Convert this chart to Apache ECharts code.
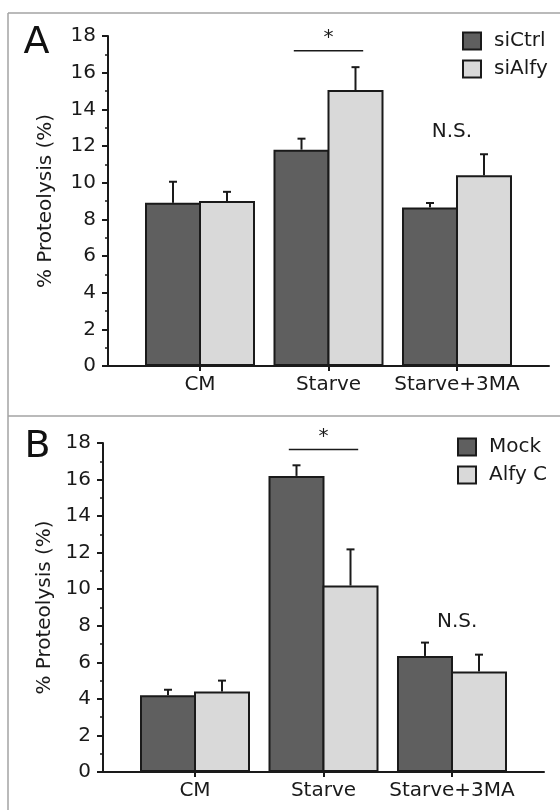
<!DOCTYPE html>
<html>
<head>
<meta charset="utf-8">
<script src="https://cdn.jsdelivr.net/npm/echarts@6/dist/echarts.min.js"></script>
<style>
  html, body { margin: 0; padding: 0; background: #fff; }
  #chart { width: 560px; height: 810px; }
</style>
</head>
<body>
<div id="chart"></div>
<script>
// ---------- data ----------
const categories = ['CM', 'Starve', 'Starve+3MA'];
const categoryPositions = [1, 2, 3];
const yTickValues = [0, 2, 4, 6, 8, 10, 12, 14, 16, 18];

// Panel A
const namesA = ['siCtrl', 'siAlfy'];
const siCtrlMean = [8.9, 11.8, 8.65];
const siCtrlErr  = [1.15, 0.6, 0.24];
const siAlfyMean = [9.0, 15.05, 10.4];
const siAlfyErr  = [0.5, 1.25, 1.15];

// Panel B
const namesB = ['Mock', 'Alfy C'];
const mockMean  = [4.2, 16.2, 6.35];
const mockErr   = [0.3, 0.58, 0.73];
const alfyCMean = [4.4, 10.2, 5.5];
const alfyCErr  = [0.6, 1.98, 0.92];

// significance annotations: [category position, level, label, bracket half-width]
const annotA = [[2, 17.2, '*', 0.27], [2.96, 12.8, 'N.S.', 0]];
const annotB = [[2, 17.65, '*', 0.27], [3.04, 8.2, 'N.S.', 0]];

// ---------- style ----------
const FONT = 'DejaVu Sans';
const INK = '#1a1a1a';
const DARK = '#5f5f5f';
const LIGHT = '#d9d9d9';
const BAR_W = 56;
const BORDER = 2;
const X_MIN = 0.284, X_MAX = 3.716;

const chart = echarts.init(document.getElementById('chart'), null, { renderer: 'canvas' });

function pairs(vals) { return vals.map((v, i) => [categoryPositions[i], v]); }
function errData(m1, e1, m2, e2) {
  const out = [];
  m1.forEach((v, i) => out.push([categoryPositions[i], v, e1[i], -1]));
  m2.forEach((v, i) => out.push([categoryPositions[i], v, e2[i], 1]));
  return out;
}
function errRender(params, api) {
  const x = api.value(0), v = api.value(1), e = api.value(2), side = api.value(3);
  const p0 = api.coord([x, v]);
  const p1 = api.coord([x, v + e]);
  const cx = p0[0] + side * (BAR_W - BORDER) / 2;
  return {
    type: 'group',
    children: [
      { type: 'line', shape: { x1: cx, y1: p0[1], x2: cx, y2: p1[1] }, style: { stroke: INK, lineWidth: 2 } },
      { type: 'line', shape: { x1: cx - 4, y1: p1[1], x2: cx + 4, y2: p1[1] }, style: { stroke: INK, lineWidth: 2 } }
    ]
  };
}
function annotRender(list) {
  return function (params, api) {
    const item = list[params.dataIndex];
    const x = api.value(0), y = api.value(1), half = api.value(2);
    const c = api.coord([x, y]);
    const children = [];
    if (half > 0) {
      const l = api.coord([x - half, y]);
      const r = api.coord([x + half, y]);
      children.push({ type: 'line', shape: { x1: l[0], y1: l[1], x2: r[0], y2: r[1] }, style: { stroke: INK, lineWidth: 1.5 } });
      children.push({ type: 'text', x: c[0], y: c[1] - 13, style: { text: item[2], fontFamily: FONT, fontSize: 20, fill: INK, align: 'center', verticalAlign: 'middle' } });
    } else {
      children.push({ type: 'text', x: c[0], y: c[1], style: { text: item[2], fontFamily: FONT, fontSize: 20, fill: INK, align: 'center', verticalAlign: 'middle' } });
    }
    return { type: 'group', children };
  };
}

function xAxisCfg(gridIndex) {
  return {
    gridIndex, type: 'value', min: X_MIN, max: X_MAX,
    axisLine: { show: true, onZero: false, lineStyle: { color: INK, width: 2 } },
    axisTick: { show: true, inside: false, length: 5, customValues: categoryPositions, lineStyle: { color: INK, width: 2 } },
    axisLabel: {
      show: true, customValues: categoryPositions, margin: 9,
      formatter: v => categories[categoryPositions.indexOf(Math.round(v))] || '',
      fontFamily: FONT, fontSize: 20, color: INK
    },
    splitLine: { show: false }
  };
}
function yAxisCfg(gridIndex, nameGap) {
  return {
    gridIndex, type: 'value', min: 0, max: 18, interval: 2,
    name: '% Proteolysis (%)', nameLocation: 'middle', nameGap,
    nameTextStyle: { fontFamily: FONT, fontSize: 20, color: INK },
    axisLine: { show: true, onZero: false, lineStyle: { color: INK, width: 2 } },
    axisTick: { show: true, inside: false, length: 6, lineStyle: { color: INK, width: 2 } },
    minorTick: { show: true, splitNumber: 2, length: 3, lineStyle: { color: INK, width: 1.5 } },
    axisLabel: { show: true, margin: 12, fontFamily: FONT, fontSize: 20, color: INK,
      customValues: yTickValues },
    splitLine: { show: false },
    minorSplitLine: { show: false }
  };
}
function barSeries(name, vals, color, idx) {
  return {
    name, type: 'bar', xAxisIndex: idx, yAxisIndex: idx,
    data: pairs(vals), barWidth: BAR_W, barGap: (-100 * BORDER / BAR_W).toFixed(2) + '%',
    itemStyle: { color, borderColor: INK, borderWidth: BORDER },
    emphasis: { disabled: true }, z: 2
  };
}
function legendCfg(names, left, top) {
  return {
    data: names, orient: 'vertical', left, top, padding: 0,
    icon: 'rect', itemWidth: 18, itemHeight: 17, itemGap: 8,
    textStyle: { fontFamily: FONT, fontSize: 20, color: INK, padding: [0, 0, 0, 8] },
    selectedMode: false
  };
}

const borderStyle = { stroke: '#a3a3a3', lineWidth: 1.5 };

const option = {
  backgroundColor: '#ffffff',
  animation: false,
  grid: [
    { left: 108, top: 36, width: 441, height: 330, outerBoundsMode: 'none', containLabel: false },
    { left: 103, top: 443, width: 441, height: 329, outerBoundsMode: 'none', containLabel: false }
  ],
  xAxis: [xAxisCfg(0), xAxisCfg(1)],
  yAxis: [yAxisCfg(0, 52), yAxisCfg(1, 47)],
  legend: [legendCfg(namesA, 462, 31), legendCfg(namesB, 457, 437)],
  series: [
    barSeries(namesA[0], siCtrlMean, DARK, 0),
    barSeries(namesA[1], siAlfyMean, LIGHT, 0),
    { type: 'custom', xAxisIndex: 0, yAxisIndex: 0, clip: false, z: 3, renderItem: errRender,
      data: errData(siCtrlMean, siCtrlErr, siAlfyMean, siAlfyErr), silent: true },
    { type: 'custom', xAxisIndex: 0, yAxisIndex: 0, clip: false, z: 3, renderItem: annotRender(annotA),
      data: annotA.map(a => [a[0], a[1], a[3]]), silent: true },
    barSeries(namesB[0], mockMean, DARK, 1),
    barSeries(namesB[1], alfyCMean, LIGHT, 1),
    { type: 'custom', xAxisIndex: 1, yAxisIndex: 1, clip: false, z: 3, renderItem: errRender,
      data: errData(mockMean, mockErr, alfyCMean, alfyCErr), silent: true },
    { type: 'custom', xAxisIndex: 1, yAxisIndex: 1, clip: false, z: 3, renderItem: annotRender(annotB),
      data: annotB.map(a => [a[0], a[1], a[3]]), silent: true }
  ],
  graphic: [
    { type: 'line', shape: { x1: 8, y1: 13, x2: 560, y2: 13 }, style: borderStyle, silent: true },
    { type: 'line', shape: { x1: 8, y1: 13, x2: 8, y2: 810 }, style: borderStyle, silent: true },
    { type: 'line', shape: { x1: 8, y1: 416, x2: 560, y2: 416 }, style: borderStyle, silent: true },
    { type: 'text', x: 36.5, y: 43, style: { text: 'A', fontFamily: FONT, fontSize: 38, fill: '#111', align: 'center', verticalAlign: 'middle' }, silent: true },
    { type: 'text', x: 37.5, y: 447, style: { text: 'B', fontFamily: FONT, fontSize: 38, fill: '#111', align: 'center', verticalAlign: 'middle' }, silent: true }
  ]
};
chart.setOption(option);
</script>
</body>
</html>
